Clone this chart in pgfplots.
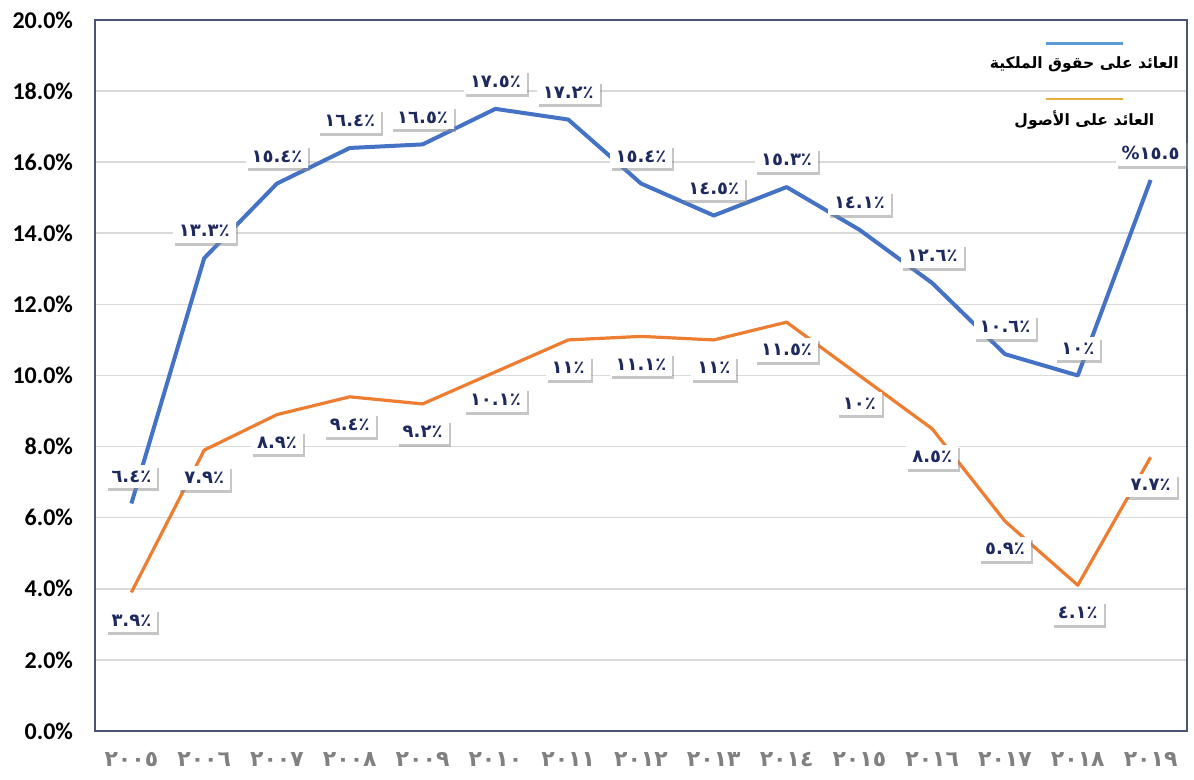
\documentclass[border=0pt]{standalone}
\usepackage{fontspec}
\usepackage{pgfplots}
\pgfplotsset{compat=1.18}
\usetikzlibrary{shadows}
\setmainfont{Carlito}
\newfontfamily\arabicfont[Script=Arabic]{DejaVu Sans}
\TeXXeTstate=1

\definecolor{roe}{HTML}{4472C4}
\definecolor{roa}{HTML}{ED7D31}
\definecolor{legblue}{HTML}{5B9BD5}
\definecolor{legorange}{HTML}{E4AE3A}
\definecolor{framec}{HTML}{4B5472}
\definecolor{navy}{HTML}{1E2A5E}
\definecolor{gridc}{HTML}{D9D9D9}

\tikzset{
  datalabel/.style={
    font=\arabicfont\bfseries\fontsize{9}{10}\selectfont,
    text=navy, fill=white, inner xsep=3pt, inner ysep=3pt,
    drop shadow={shadow xshift=1pt, shadow yshift=-1.5pt, fill=black!45},
    anchor=center},
}
% legend key: a coloured rule set above the text
\newcommand{\legkey}[2]{\begin{tabular}{@{}c@{}}\textcolor{#1}{\rule{38.5pt}{1.2pt}}\\[2.5pt]#2\end{tabular}}

\begin{document}
\begin{tikzpicture}
\begin{axis}[
  name=ax, at={(0,0)}, anchor=south west,
  scale only axis, width=546pt, height=355.5pt,
  xmin=-0.5, xmax=14.5, ymin=0, ymax=20,
  xtick={0,...,14},
  xticklabels={٢٠٠٥,٢٠٠٦,٢٠٠٧,٢٠٠٨,٢٠٠٩,٢٠١٠,٢٠١١,٢٠١٢,٢٠١٣,٢٠١٤,٢٠١٥,٢٠١٦,٢٠١٧,٢٠١٨,٢٠١٩},
  xticklabel style={font=\arabicfont\bfseries\fontsize{11}{13}\selectfont, text=black!50, yshift=-7pt},
  ytick={0,2,...,20},
  /pgf/number format/assume math mode=true,
  yticklabel={\pgfmathprintnumber[fixed,fixed zerofill,precision=1]{\tick}\%},
  yticklabel style={font=\bfseries\fontsize{12}{14}\selectfont, xshift=-7.5pt},
  major tick length=0pt,
  ymajorgrids, grid style={gridc, line width=0.8pt},
  axis line style={framec, line width=1.2pt},
  legend style={draw=none, fill=none, at={(rel axis cs:0.906,0.99)}, anchor=north,
    font=\arabicfont\bfseries\fontsize{7.8}{9.5}\selectfont,
    row sep=9.5pt, inner sep=0pt},
  legend cell align=center,
  legend image code/.code={},
]
% labels first, so the lines pass over them
\addplot[draw=none, forget plot, nodes near coords, point meta=explicit symbolic,
  every node near coord/.append style={datalabel, yshift=13.5pt}] coordinates {
  (0,6.4) [٪٦.٤] (1,13.3) [٪١٣.٣] (2,15.4) [٪١٥.٤] (3,16.4) [٪١٦.٤]
  (4,16.5) [٪١٦.٥] (5,17.5) [٪١٧.٥] (6,17.2) [٪١٧.٢] (7,15.4) [٪١٥.٤]
  (8,14.5) [٪١٤.٥] (9,15.3) [٪١٥.٣] (10,14.1) [٪١٤.١] (11,12.6) [٪١٢.٦]
  (12,10.6) [٪١٠.٦] (13,10.0) [٪١٠] (14,15.5) [١٥.٥\%]
};
\addplot[draw=none, forget plot, nodes near coords, point meta=explicit symbolic,
  every node near coord/.append style={datalabel, yshift=-14pt}] coordinates {
  (0,3.9) [٪٣.٩] (1,7.9) [٪٧.٩] (2,8.9) [٪٨.٩] (3,9.4) [٪٩.٤]
  (4,9.2) [٪٩.٢] (5,10.1) [٪١٠.١] (6,11.0) [٪١١] (7,11.1) [٪١١.١]
  (8,11.0) [٪١١] (9,11.5) [٪١١.٥] (10,10.0) [٪١٠] (11,8.5) [٪٨.٥]
  (12,5.9) [٪٥.٩] (13,4.1) [٪٤.١] (14,7.7) [٪٧.٧]
};
% return on equity
\addplot[roe, line width=2pt, line join=round, forget plot] coordinates {
  (0,6.4) (1,13.3) (2,15.4) (3,16.4) (4,16.5) (5,17.5) (6,17.2) (7,15.4)
  (8,14.5) (9,15.3) (10,14.1) (11,12.6) (12,10.6) (13,10.0) (14,15.5)
};
% return on assets
\addplot[roa, line width=1.6pt, line join=round, forget plot] coordinates {
  (0,3.9) (1,7.9) (2,8.9) (3,9.4) (4,9.2) (5,10.1) (6,11.0) (7,11.1)
  (8,11.0) (9,11.5) (10,10.0) (11,8.5) (12,5.9) (13,4.1) (14,7.7)
};
\addlegendimage{legblue}
\addlegendentry{\legkey{legblue}{\beginR العائد على حقوق الملكية\endR}}
\addlegendimage{legorange}
\addlegendentry{\legkey{legorange}{\beginR العائد على الأصول\endR}}
\end{axis}
\pgfresetboundingbox
\path (-47.5pt,-24.5pt) rectangle (549.5pt,365.5pt);
\end{tikzpicture}
\end{document}
